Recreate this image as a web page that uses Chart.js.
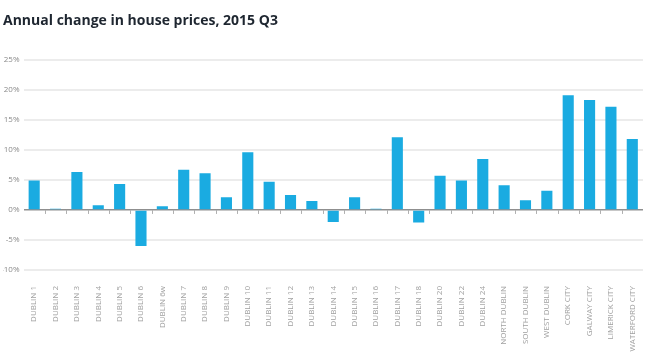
<!DOCTYPE html>
<html lang="en">

<head>
    <meta charset="utf-8">
    <title>Annual change in house prices, 2015 Q3</title>
    <script src="https://cdn.jsdelivr.net/npm/chart.js@4.4.0/dist/chart.umd.min.js"></script>
    <style>
        body {
            margin: 0;
            background-color: #ffffff;
        }

        .chart-box {
            position: relative;
            width: 650px;
            height: 364px;
        }
    </style>
</head>

<body>
    <div class="chart-box">
        <canvas id="myChart"></canvas>
    </div>
</body>

<script>
    // areas along the x axis
    var areaLabels = [
        "DUBLIN 1", "DUBLIN 2", "DUBLIN 3", "DUBLIN 4", "DUBLIN 5", "DUBLIN 6", "DUBLIN 6w",
        "DUBLIN 7", "DUBLIN 8", "DUBLIN 9", "DUBLIN 10", "DUBLIN 11", "DUBLIN 12", "DUBLIN 13",
        "DUBLIN 14", "DUBLIN 15", "DUBLIN 16", "DUBLIN 17", "DUBLIN 18", "DUBLIN 20", "DUBLIN 22",
        "DUBLIN 24", "NORTH DUBLIN", "SOUTH DUBLIN", "WEST DUBLIN", "CORK CITY", "GALWAY CITY",
        "LIMERICK CITY", "WATERFORD CITY"
    ];

    // annual change, percent
    var priceChange = [
        4.9, 0.2, 6.3, 0.8, 4.3, -6.0, 0.6,
        6.7, 6.1, 2.1, 9.6, 4.7, 2.5, 1.5,
        -2.0, 2.1, 0.2, 12.1, -2.1, 5.7, 4.9,
        8.5, 4.1, 1.6, 3.2, 19.1, 18.3,
        17.2, 11.8
    ];

    // y axis range
    var yMin = -10;
    var yMax = 25;
    var yStep = 5;

    // little marks hanging under the zero line, between the bars
    let zeroTicks = {
        id: 'zeroTicks',
        afterDatasetsDraw: (chart) => {
            let x = chart.scales.x;
            let y = chart.scales.y;
            let y0 = y.getPixelForValue(0);
            let half = (x.getPixelForValue(1) - x.getPixelForValue(0)) / 2;
            let ctx = chart.ctx;
            ctx.save();
            ctx.strokeStyle = '#b0b0b0';
            ctx.lineWidth = 1;
            for (let i = 1; i < areaLabels.length; i++) {
                let px = Math.round(x.getPixelForValue(i) - half) + 0.5;
                ctx.beginPath();
                ctx.moveTo(px, y0);
                ctx.lineTo(px, y0 + 4);
                ctx.stroke();
            }
            ctx.restore();
        }
    };

    let showChart = () => {
        new Chart(document.getElementById("myChart"), {
            type: 'bar',
            data: {
                labels: areaLabels,
                datasets: [{
                    label: "Annual change",
                    data: priceChange,
                    backgroundColor: '#1aabe1',
                    categoryPercentage: 1,
                    barPercentage: 0.52,
                }]
            },
            options: {
                responsive: true,
                maintainAspectRatio: false,
                animation: false,
                layout: {
                    padding: { left: 3, right: 6, top: 0, bottom: 0 }
                },
                plugins: {
                    legend: { display: false },
                    tooltip: { enabled: false },
                    title: {
                        display: true,
                        text: "Annual change in house prices, 2015 Q3",
                        align: 'start',
                        color: '#1e2630',
                        font: { family: "Open Sans", size: 14, weight: 'bold' },
                        padding: { top: 13, bottom: 30 }
                    }
                },
                scales: {
                    x: {
                        grid: { display: false },
                        border: { display: false },
                        ticks: {
                            color: '#a0a0a0',
                            font: { family: "Open Sans", size: 8 },
                            minRotation: 90,
                            maxRotation: 90,
                            padding: 8,
                            autoSkip: false
                        },
                        afterFit: (scale) => { scale.height = 94; }
                    },
                    y: {
                        min: yMin,
                        max: yMax,
                        grid: {
                            drawTicks: false,
                            lineWidth: (ctx) => ctx.tick && ctx.tick.value === 0 ? 1.5 : 2,
                            color: (ctx) => ctx.tick && ctx.tick.value === 0 ? '#8f8f8f' : '#ececec'
                        },
                        border: { display: false },
                        ticks: {
                            stepSize: yStep,
                            color: '#8a8a8a',
                            font: { family: "Open Sans", size: 8 },
                            padding: 4,
                            callback: (v) => v + '%'
                        },
                        afterFit: (scale) => { scale.width = 20.5; }
                    }
                }
            },
            plugins: [zeroTicks]
        });
    };

    showChart();
</script>

</html>
